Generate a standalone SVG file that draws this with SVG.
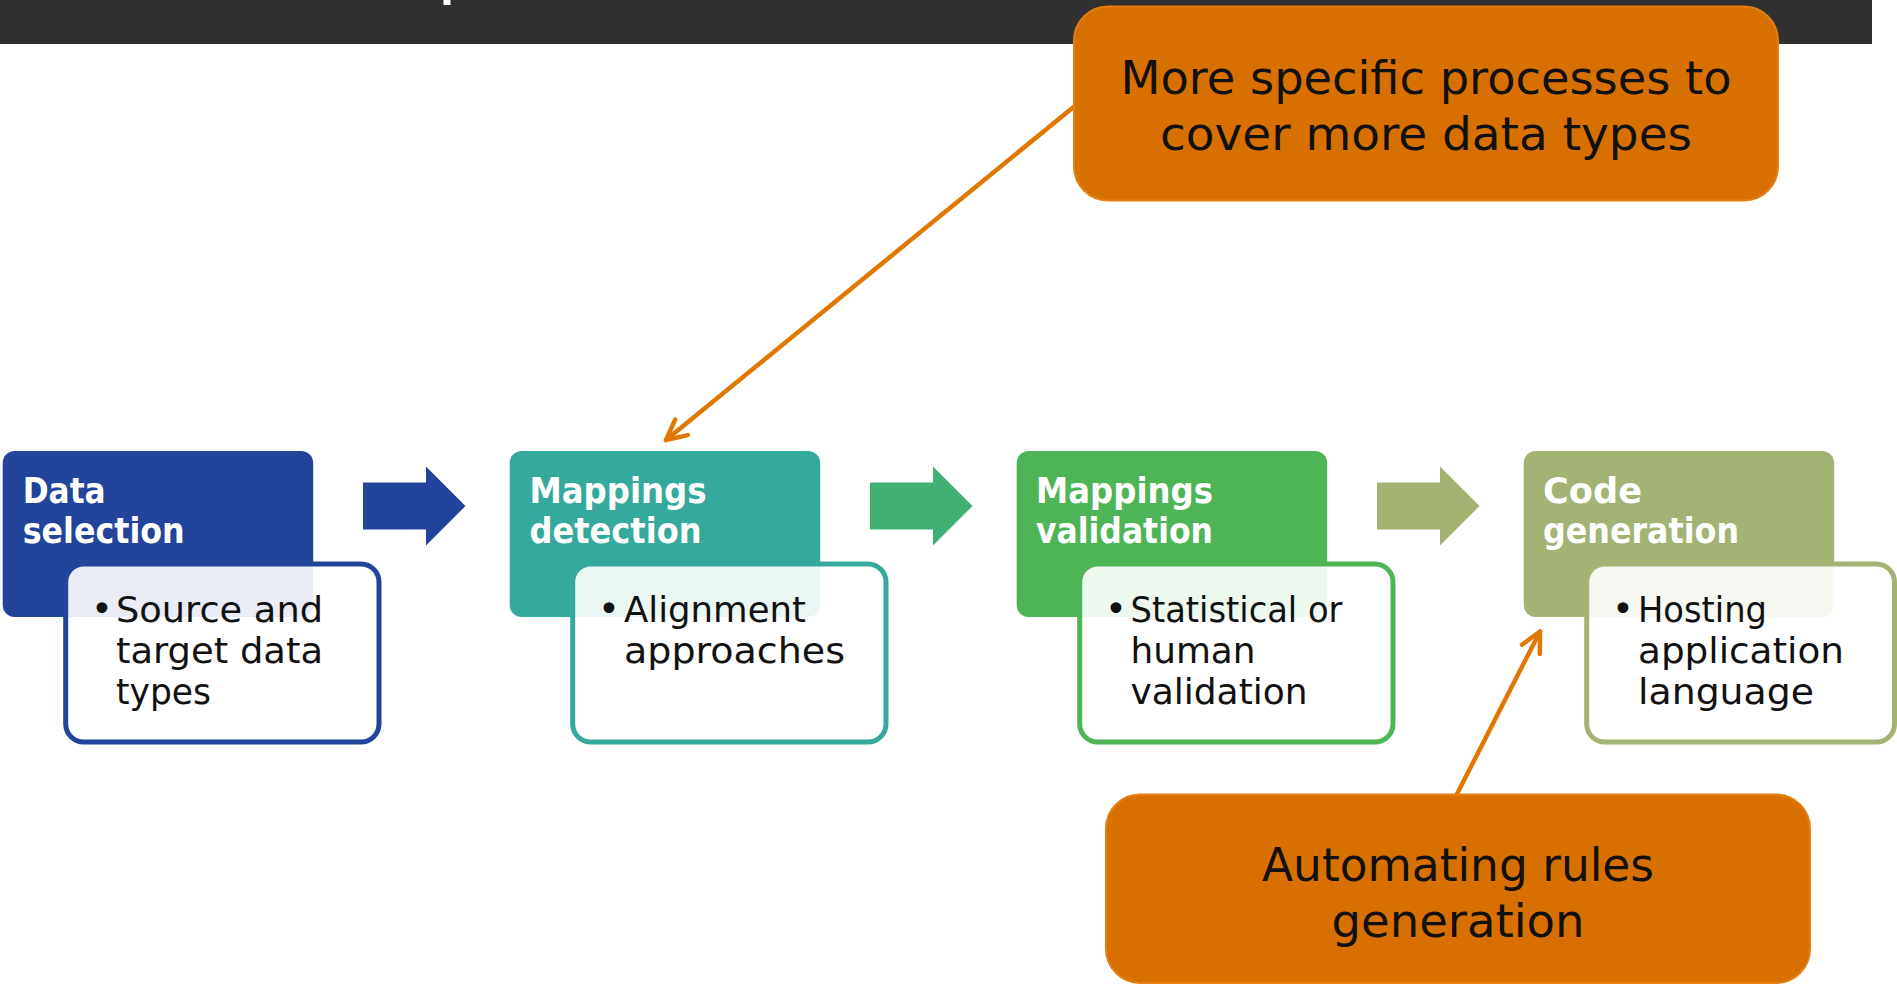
<svg xmlns="http://www.w3.org/2000/svg" width="1897" height="984" viewBox="0 0 1897 984">
  <defs>
    <style>
      .hdr { font-family: "DejaVu Sans", "Liberation Sans", sans-serif; font-weight: bold; font-size: 35px; fill: #ffffff; }
      .bul { font-family: "DejaVu Sans", "Liberation Sans", sans-serif; font-size: 36px; fill: #111111; }
      .dot { font-family: "DejaVu Sans", sans-serif; font-size: 37px; fill: #111111; text-anchor: middle; }
      .note { font-family: "DejaVu Sans", "Liberation Sans", sans-serif; font-size: 46px; fill: #111111; text-anchor: middle; }
      .sub { fill: #ffffff; fill-opacity: 0.9; stroke-width: 5; }
      .callout { fill: #D87000; stroke: #E47F14; stroke-width: 2; }
      .pointer { fill: none; stroke: #E07800; stroke-width: 4.5; stroke-linecap: round; }
    </style>
    <marker id="openHead" markerUnits="userSpaceOnUse" markerWidth="40" markerHeight="40" viewBox="-30 -20 40 40" refX="0" refY="0" orient="auto" overflow="visible">
      <path d="M-20,-10 L0,0 L-20,10" fill="none" stroke="#E07800" stroke-width="4.5" stroke-linecap="round" stroke-linejoin="round"/>
    </marker>
  </defs>

  <!-- title bar -->
  <rect x="0" y="0" width="1872" height="44" fill="#303030"/>
  <rect x="443.5" y="0" width="7" height="5" fill="#ffffff"/>

  <!-- connectors: process arrows and callout pointers -->
  <g id="connectors">
    <polygon points="363,482.5 426,482.5 426,466.5 465.5,506 426,545.5 426,529.5 363,529.5" fill="#22449B"/>
    <polygon points="870,482.5 933,482.5 933,466.5 972.5,506 933,545.5 933,529.5 870,529.5" fill="#41AF74"/>
    <polygon points="1377,482.5 1440,482.5 1440,466.5 1479.5,506 1440,545.5 1440,529.5 1377,529.5" fill="#A3B372"/>
    <line class="pointer" x1="1080" y1="101.7" x2="666" y2="440" marker-end="url(#openHead)"/>
    <line class="pointer" x1="1457" y1="794" x2="1540" y2="631.5" marker-end="url(#openHead)"/>
  </g>

  <!-- step 1 -->
  <g id="node-data-selection">
    <rect x="2.7" y="451" width="310.5" height="166" rx="12" fill="#22449B"/>
    <text class="hdr" x="22.7" y="502.7" textLength="83" lengthAdjust="spacingAndGlyphs">Data</text>
    <text class="hdr" x="22.7" y="543" textLength="162" lengthAdjust="spacingAndGlyphs">selection</text>
    <rect class="sub" x="65.7" y="564" width="313.3" height="178" rx="18" stroke="#22449B"/>
    <text class="dot" x="102" y="622">•</text>
    <text class="bul" x="116" y="622" textLength="207" lengthAdjust="spacingAndGlyphs">Source and</text>
    <text class="bul" x="116" y="663" textLength="207" lengthAdjust="spacingAndGlyphs">target data</text>
    <text class="bul" x="116" y="704" textLength="95" lengthAdjust="spacingAndGlyphs">types</text>
  </g>

  <!-- step 2 -->
  <g id="node-mappings-detection">
    <rect x="509.7" y="451" width="310.5" height="166" rx="12" fill="#35AA9C"/>
    <text class="hdr" x="529.5" y="502.7" textLength="177" lengthAdjust="spacingAndGlyphs">Mappings</text>
    <text class="hdr" x="529.5" y="543" textLength="172" lengthAdjust="spacingAndGlyphs">detection</text>
    <rect class="sub" x="572.7" y="564" width="313.3" height="178" rx="18" stroke="#35AA9C"/>
    <text class="dot" x="609" y="622">•</text>
    <text class="bul" x="624" y="622" textLength="182" lengthAdjust="spacingAndGlyphs">Alignment</text>
    <text class="bul" x="624" y="663" textLength="221" lengthAdjust="spacingAndGlyphs">approaches</text>
  </g>

  <!-- step 3 -->
  <g id="node-mappings-validation">
    <rect x="1016.7" y="451" width="310.5" height="166" rx="12" fill="#4DB556"/>
    <text class="hdr" x="1036" y="502.7" textLength="177" lengthAdjust="spacingAndGlyphs">Mappings</text>
    <text class="hdr" x="1036" y="543" textLength="177" lengthAdjust="spacingAndGlyphs">validation</text>
    <rect class="sub" x="1079.7" y="564" width="313.3" height="178" rx="18" stroke="#4DB556"/>
    <text class="dot" x="1116" y="622">•</text>
    <text class="bul" x="1130.5" y="622" textLength="212" lengthAdjust="spacingAndGlyphs">Statistical or</text>
    <text class="bul" x="1130.5" y="663" textLength="125" lengthAdjust="spacingAndGlyphs">human</text>
    <text class="bul" x="1130.5" y="704" textLength="177" lengthAdjust="spacingAndGlyphs">validation</text>
  </g>

  <!-- step 4 -->
  <g id="node-code-generation">
    <rect x="1523.7" y="451" width="310.5" height="166" rx="12" fill="#A3B373"/>
    <text class="hdr" x="1543" y="502.7" textLength="99" lengthAdjust="spacingAndGlyphs">Code</text>
    <text class="hdr" x="1543" y="543" textLength="196" lengthAdjust="spacingAndGlyphs">generation</text>
    <rect class="sub" x="1586.7" y="564" width="307.8" height="178" rx="18" stroke="#A3B373"/>
    <text class="dot" x="1623" y="622">•</text>
    <text class="bul" x="1638" y="622" textLength="129" lengthAdjust="spacingAndGlyphs">Hosting</text>
    <text class="bul" x="1638" y="663" textLength="206" lengthAdjust="spacingAndGlyphs">application</text>
    <text class="bul" x="1638" y="704" textLength="176" lengthAdjust="spacingAndGlyphs">language</text>
  </g>

  <!-- callouts -->
  <g id="callout-data-types">
    <rect class="callout" x="1074" y="6.5" width="704" height="194" rx="34"/>
    <text class="note" x="1426" y="94" textLength="611" lengthAdjust="spacingAndGlyphs">More specific processes to</text>
    <text class="note" x="1426" y="150" textLength="532" lengthAdjust="spacingAndGlyphs">cover more data types</text>
  </g>
  <g id="callout-rules">
    <rect class="callout" x="1106" y="794.5" width="704" height="188.5" rx="34"/>
    <text class="note" x="1458" y="881" textLength="392" lengthAdjust="spacingAndGlyphs">Automating rules</text>
    <text class="note" x="1458" y="937" textLength="253" lengthAdjust="spacingAndGlyphs">generation</text>
  </g>
</svg>
